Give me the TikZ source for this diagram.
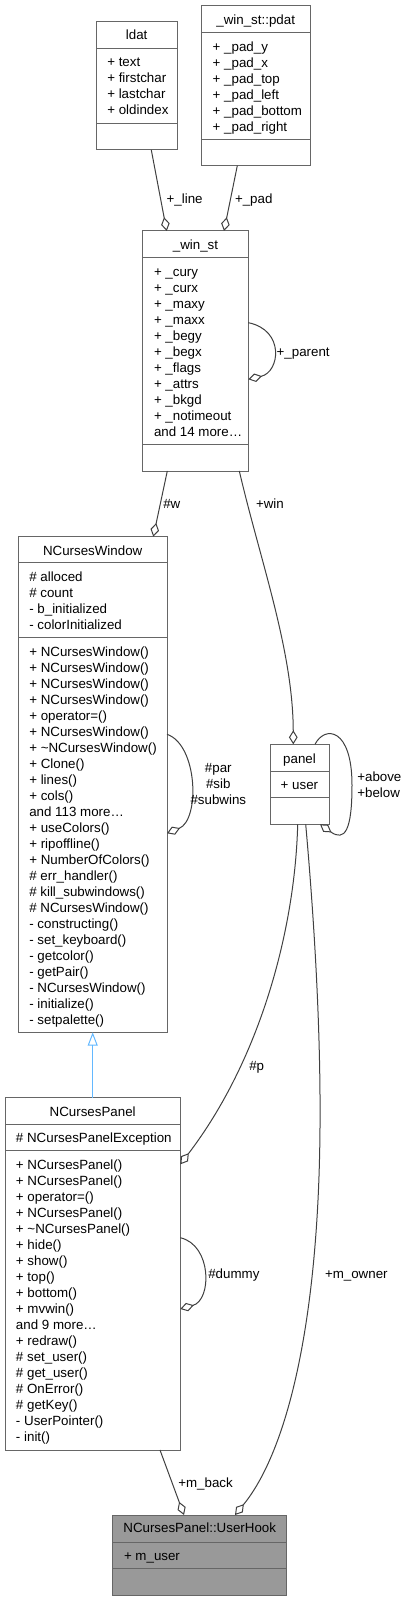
\documentclass[tikz,border=0pt]{standalone}
\usepackage{fontspec}
\setmainfont{Liberation Sans}
\usetikzlibrary{arrows.meta,fit}
\definecolor{boxc}{HTML}{666666}
\definecolor{edgec}{HTML}{404040}
\definecolor{inhc}{HTML}{63B8FF}
\definecolor{hookc}{HTML}{999999}
\begin{document}
\begin{tikzpicture}[x=0.75pt,y=-0.75pt,
 box/.style={draw=boxc, line width=0.75pt, inner sep=0pt, outer sep=0pt, fill=white},
 sep/.style={draw=boxc, line width=0.75pt},
 txt/.style={inner sep=0pt, outer sep=0pt, anchor=base west, font=\fontsize{10pt}{12pt}\selectfont},
 ttl/.style={txt, anchor=base},
 agg/.style={draw=edgec, line width=0.75pt, -{Diamond[open,length=10.5pt,width=6.5pt]}},
 inh/.style={draw=inhc, line width=0.75pt, -{Triangle[open,length=10pt,width=7.5pt]}},
]
\useasboundingbox (0,0) rectangle (405,1601);

% ---------- ldat ----------
\node[box, fit={(96,22) (177.3,150)}] (ldat) {};
\draw[sep] (ldat.west |- 0,48.7) -- (ldat.east |- 0,48.7);
\draw[sep] (ldat.west |- 0,123.3) -- (ldat.east |- 0,123.3);
\node[ttl] (ldat-t) at (136.7,39.5) {ldat};
\foreach \t [count=\i from 0] in {+ text, + firstchar, + lastchar, + oldindex}
  \node[txt] (ldat-a\i) at (107.3,66.8+16*\i) {\t};

% ---------- _win_st::pdat ----------
\node[box, fit={(201.3,5.7) (310,165.7)}] (pdat) {};
\draw[sep] (pdat.west |- 0,32.7) -- (pdat.east |- 0,32.7);
\draw[sep] (pdat.west |- 0,139.3) -- (pdat.east |- 0,139.3);
\node[ttl] (pdat-t) at (255.7,24.5) {\_win\_st::pdat};
\foreach \t [count=\i from 0] in {+ \_pad\_y, + \_pad\_x, + \_pad\_top, + \_pad\_left, + \_pad\_bottom, + \_pad\_right}
  \node[txt] (pdat-a\i) at (212.7,51.2+16*\i) {\t};

% ---------- _win_st ----------
\node[box, fit={(142.7,231) (248.3,471)}] (winst) {};
\draw[sep] (winst.west |- 0,257.7) -- (winst.east |- 0,257.7);
\draw[sep] (winst.west |- 0,444.7) -- (winst.east |- 0,444.7);
\node[ttl] (winst-t) at (195.5,249.5) {\_win\_st};
\foreach \t [count=\i from 0] in {+ \_cury, + \_curx, + \_maxy, + \_maxx, + \_begy, + \_begx, + \_flags, + \_attrs, + \_bkgd, + \_notimeout, and 14 more…}
  \node[txt] (winst-a\i) at (154,276.2+16*\i) {\t};

% ---------- NCursesWindow ----------
\node[box, fit={(18.3,536.7) (167,1032.3)}] (ncw) {};
\draw[sep] (ncw.west |- 0,562.7) -- (ncw.east |- 0,562.7);
\draw[sep] (ncw.west |- 0,637.7) -- (ncw.east |- 0,637.7);
\node[ttl] (ncw-t) at (92.7,555.2) {NCursesWindow};
\foreach \t [count=\i from 0] in {\# alloced, \# count, - b\_initialized, - colorInitialized}
  \node[txt] (ncw-a\i) at (29.3,581.2+16*\i) {\t};
\foreach \t [count=\i from 0] in {+ NCursesWindow(), + NCursesWindow(), + NCursesWindow(), + NCursesWindow(), + operator=(), + NCursesWindow(), + \textasciitilde NCursesWindow(), + Clone(), + lines(), + cols(), and 113 more…, + useColors(), + ripoffline(), + NumberOfColors(), \# err\_handler(), \# kill\_subwindows(), \# NCursesWindow(), - constructing(), - set\_keyboard(), - getcolor(), - getPair(), - NCursesWindow(), - initialize(), - setpalette()}
  \node[txt] (ncw-m\i) at (29.3,656.2+16*\i) {\t};

% ---------- panel ----------
\node[box, fit={(270,744.3) (329,824.3)}] (panel) {};
\draw[sep] (panel.west |- 0,771) -- (panel.east |- 0,771);
\draw[sep] (panel.west |- 0,797.3) -- (panel.east |- 0,797.3);
\node[ttl] (panel-t) at (299.5,763.5) {panel};
\node[txt] (panel-a0) at (280.7,789.5) {+ user};

% ---------- NCursesPanel ----------
\node[box, fit={(5,1097.7) (180.3,1450)}] (ncp) {};
\draw[sep] (ncp.west |- 0,1124.3) -- (ncp.east |- 0,1124.3);
\draw[sep] (ncp.west |- 0,1150.7) -- (ncp.east |- 0,1150.7);
\node[ttl] (ncp-t) at (92.7,1116.2) {NCursesPanel};
\node[txt] (ncp-a0) at (16,1142.8) {\# NCursesPanelException};
\foreach \t [count=\i from 0] in {+ NCursesPanel(), + NCursesPanel(), + operator=(), + NCursesPanel(), + \textasciitilde NCursesPanel(), + hide(), + show(), + top(), + bottom(), + mvwin(), and 9 more…, + redraw(), \# set\_user(), \# get\_user(), \# OnError(), \# getKey(), - UserPointer(), - init()}
  \node[txt] (ncp-m\i) at (16,1169.5+16*\i) {\t};

% ---------- NCursesPanel::UserHook ----------
\node[box, fill=hookc, fit={(112.7,1515) (286.7,1595)}] (hook) {};
\draw[sep] (hook.west |- 0,1542) -- (hook.east |- 0,1542);
\draw[sep] (hook.west |- 0,1568.7) -- (hook.east |- 0,1568.7);
\node[ttl] (hook-t) at (199.7,1532.8) {NCursesPanel::UserHook};
\node[txt] (hook-a0) at (124,1560.2) {+ m\_user};

% ---------- connectors ----------
\draw[agg] (151.3,0 |- ldat.south) -- (166.7,0 |- winst.north);
\node[txt] (l-line) at (166.7,203.5) {+\_line};
\draw[agg] (237.3,0 |- pdat.south) -- (224,0 |- winst.north);
\node[txt] (l-pad) at (235,203.5) {+\_pad};

\draw[agg] (winst.east |- 0,322.7) .. controls (285,330) and (280,372) .. (winst.east |- 0,379.3);
\node[txt] (l-parent) at (276.7,356.2) {+\_parent};

\draw[agg] (167.3,0 |- winst.south) -- (153.3,0 |- ncw.north);
\node[txt] (l-w) at (163.3,508.8) {\#w};
\draw[agg] (239.3,0 |- winst.south) .. controls (260,560) and (293,650) .. (293.3,0 |- panel.north);
\node[txt] (l-win) at (256,508.8) {+win};

\draw[agg] (ncw.east |- 0,734.3) .. controls (198,745) and (200,820) .. (ncw.east |- 0,833.3);
\node[ttl] (l-par) at (218.3,772.8) {\#par};
\node[ttl] (l-sib) at (218.3,788.8) {\#sib};
\node[ttl] (l-subwins) at (218.3,804.8) {\#subwins};

\draw[agg] (315,0 |- panel.north) .. controls (325,725) and (352,728) .. (352,785)
  .. controls (352,830) and (345,842) .. (320,0 |- panel.south);
\node[txt] (l-above) at (357.3,781.2) {+above};
\node[txt] (l-below) at (357.3,797) {+below};

\draw[inh] (92.7,0 |- ncp.north) -- (92.7,0 |- ncw.south);

\draw[agg] (297.7,0 |- panel.south) .. controls (295,930) and (260,1060) .. (ncp.east |- 0,1164.3);
\node[txt] (l-p) at (249.3,1070.2) {\#p};

\draw[agg] (305.7,0 |- panel.south) .. controls (316,940) and (324,1080) .. (318,1200)
  .. controls (310,1360) and (280,1460) .. (235,0 |- hook.north);
\node[txt] (l-owner) at (325,1278.5) {+m\_owner};

\draw[agg] (ncp.east |- 0,1237.7) .. controls (212,1245) and (212,1300) .. (ncp.east |- 0,1309);
\node[txt] (l-dummy) at (208.3,1278.5) {\#dummy};

\draw[agg] (160,0 |- ncp.south) -- (184,0 |- hook.north);
\node[txt] (l-back) at (178.3,1487.2) {+m\_back};
\end{tikzpicture}
\end{document}
